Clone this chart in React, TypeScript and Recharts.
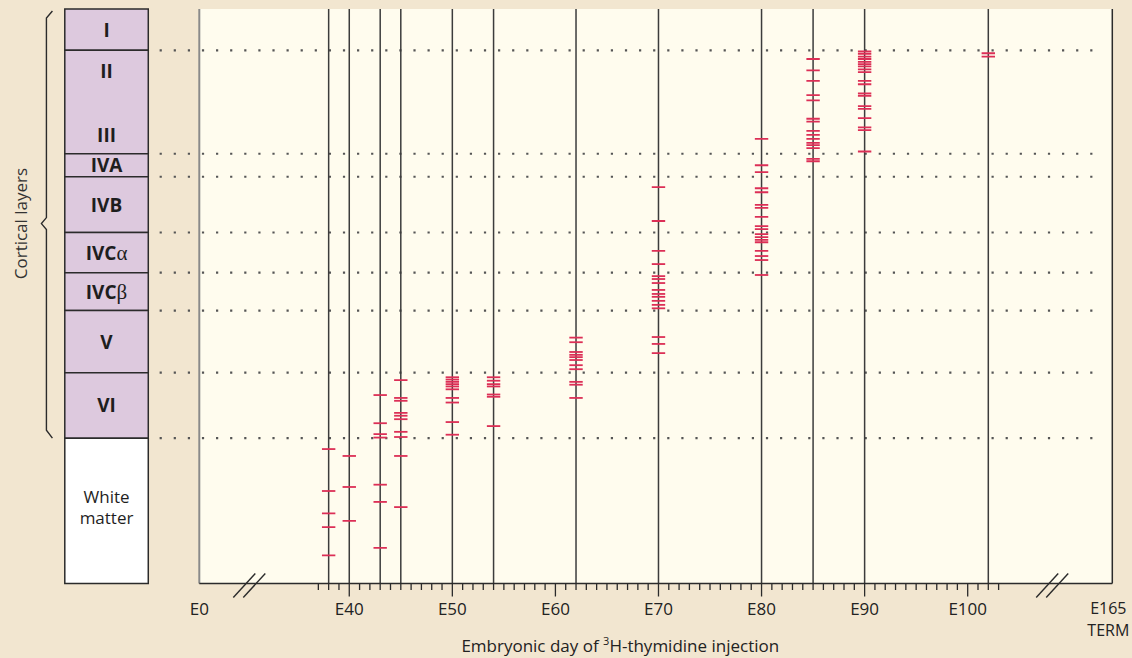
import {
  ComposedChart,
  XAxis,
  YAxis,
  CartesianGrid,
  ReferenceArea,
  ReferenceLine,
  ReferenceDot,
  Scatter,
} from "recharts";

const BEIGE = "#f2e6d0";
const CREAM = "#fffcee";
const LILAC = "#ddc9de";
const RED = "#dc2f56";
const INK = "#2b2b2b";
const FONT = "'Open Sans', 'Noto Sans', sans-serif";

// embryonic days on which 3H-thymidine was injected
const injectionDays = [38, 40, 43, 45, 50, 54, 62, 70, 80, 85, 90, 102];

// depth of each heavily labeled neuron, % of the column (0 = pial surface)
const labeledDepths = [
  [76.6, 83.9, 87.8, 90.2, 95.1],
  [77.8, 83.2, 89.1],
  [67.2, 72.1, 74.0, 74.6, 82.8, 85.8, 93.8],
  [64.6, 67.7, 68.2, 70.3, 70.8, 71.4, 73.6, 74.5, 77.8, 86.7],
  [64.1, 64.5, 64.9, 65.3, 65.7, 66.2, 67.7, 68.5, 71.9, 74.1],
  [64.1, 64.7, 65.3, 65.7, 67.1, 67.5, 72.6],
  [57.2, 58.0, 59.7, 60.2, 60.6, 61.1, 62.0, 62.7, 64.9, 65.4, 67.7],
  [31.0, 36.9, 42.1, 44.4, 46.5, 47.0, 47.7, 48.9, 49.6, 50.1, 50.8, 51.5, 52.1, 57.1, 58.3, 59.9],
  [22.6, 27.2, 28.4, 31.2, 31.9, 34.1, 34.6, 36.2, 37.8, 38.3, 39.2, 39.7, 40.2, 40.6, 42.1, 43.0, 43.7, 46.3],
  [8.7, 10.7, 12.5, 15.0, 15.9, 19.1, 19.6, 21.2, 21.9, 22.6, 23.3, 23.7, 24.2, 26.1, 26.5],
  [7.4, 7.8, 8.3, 8.7, 9.2, 9.6, 10.0, 10.5, 11.0, 12.5, 13.1, 14.7, 15.1, 16.9, 17.4, 19.0, 20.6, 21.1, 24.8],
  [7.7, 8.3],
];

// cortical layers, top to bottom, and their boundaries (same depth units)
const layerNames = ["I", "II|III", "IVA", "IVB", "IVCα", "IVCβ", "V", "VI", "White matter"];
const layerBounds = [0, 7.2, 25.2, 29.2, 38.9, 45.9, 52.5, 63.3, 74.7, 100];

const majorDays = [40, 50, 60, 70, 80, 90, 100];
const minorDayRange = [37, 103];
const endLabels = ["E0", "E165", "TERM"];

// broken axis: visible window in day units, E0 sits at the left edge, E165 at the right
const X_DOMAIN = [25.45, 114.03];
// placement of the decorations, in the same day units
const COLUMN_X = [12.4, 20.5];
const BRACE_X = [10.0, 11.2];
const DOTS_X = [21.6, 112.8];
const BREAKS = [30.3, 108.2];

const marks = injectionDays.flatMap((day, i) =>
  labeledDepths[i].map((depth) => ({ day, depth }))
);

const ticks = [
  X_DOMAIN[0],
  ...Array.from({ length: minorDayRange[1] - minorDayRange[0] + 1 }, (_, i) => minorDayRange[0] + i),
  X_DOMAIN[1],
];

const textStyle = { fontFamily: FONT, fill: "#222" };

function DayTick({ x, y, payload }: any) {
  const v = payload.value;
  if (v === X_DOMAIN[0]) {
    return (
      <text x={x} y={y + 31} textAnchor="middle" fontSize={17} style={textStyle}>
        {endLabels[0]}
      </text>
    );
  }
  if (v === X_DOMAIN[1]) {
    return (
      <g>
        <text x={x - 4} y={y + 30} textAnchor="middle" fontSize={16} style={textStyle}>
          {endLabels[1]}
        </text>
        <text x={x - 4} y={y + 52} textAnchor="middle" fontSize={16} style={textStyle}>
          {endLabels[2]}
        </text>
      </g>
    );
  }
  const major = majorDays.includes(v);
  return (
    <g>
      <line x1={x} x2={x} y1={y} y2={y + (major ? 13 : 6.5)} stroke={INK} strokeWidth={1.3} />
      {major && (
        <text x={x} y={y + 31} textAnchor="middle" fontSize={17} style={textStyle}>
          E{v}
        </text>
      )}
    </g>
  );
}

function AxisTitle(props: any) {
  const vb = props.viewBox || { x: 199.3, y: 583.5 };
  return (
    <text x={vb.x + 421} y={vb.y + 68.5} textAnchor="middle" fontSize={17} style={textStyle}>
      Embryonic day of <tspan dy={-7} fontSize={11}>3</tspan>
      <tspan dy={7}>H-thymidine injection</tspan>
    </text>
  );
}

function Dash({ cx, cy }: any) {
  return <line x1={cx - 6.7} x2={cx + 6.7} y1={cy} y2={cy} stroke={RED} strokeWidth={1.8} />;
}

function AxisBreak({ cx, cy }: any) {
  return (
    <g stroke={INK} strokeWidth={1.4}>
      <line x1={cx - 16} y1={cy + 14} x2={cx + 6} y2={cy - 10} />
      <line x1={cx - 6} y1={cy + 14} x2={cx + 16} y2={cy - 10} />
    </g>
  );
}

const layerLabel = (name: string) => (props: any) => {
  const { x, y, width, height } = props.viewBox;
  const cx = x + width / 2;
  const cy = y + height / 2;
  const bold = { fontFamily: FONT, fill: "#1e1e1e", fontWeight: 700, fontSize: 19 };
  if (name.includes("|")) {
    const [a, b] = name.split("|");
    return (
      <g>
        <text x={cx} y={y + 28} textAnchor="middle" style={bold}>{a}</text>
        <text x={cx} y={y + height - 12} textAnchor="middle" style={bold}>{b}</text>
      </g>
    );
  }
  if (name === "White matter") {
    const [a, b] = name.split(" ");
    return (
      <text textAnchor="middle" style={{ fontFamily: FONT, fill: "#1e1e1e", fontSize: 17 }}>
        <tspan x={cx} y={cy - 8}>{a}</tspan>
        <tspan x={cx} y={cy + 13}>{b}</tspan>
      </text>
    );
  }
  const greek = name.match(/[αβ]$/);
  return (
    <text x={cx} y={cy + 7} textAnchor="middle" style={bold}>
      {greek ? name.slice(0, -1) : name}
      {greek && (
        <tspan style={{ fontFamily: "'Liberation Serif', serif", fontWeight: 400, fontSize: 21 }}>
          {greek[0]}
        </tspan>
      )}
    </text>
  );
};

function Brace(props: any) {
  const { x, y, width, height } = props.viewBox;
  const x0 = x + width;
  const xl = x0 - 6;
  const xt = x0 - 11;
  const mid = y + height / 2;
  const d = `M${x0},${y + 2} L${xl},${y + 9} L${xl},${mid - 6} L${xt},${mid} L${xl},${mid + 6} L${xl},${y + height - 8} L${x0},${y + height}`;
  return (
    <g>
      <path d={d} fill="none" stroke={INK} strokeWidth={1.4} />
      <text
        x={x - 20}
        y={mid}
        transform={`rotate(-90 ${x - 20} ${mid})`}
        textAnchor="middle"
        dominantBaseline="central"
        fontSize={17}
        style={{ fontFamily: FONT, fill: "#333" }}
      >
        Cortical layers
      </text>
    </g>
  );
}

export default function App() {
  return (
    <div style={{ position: "fixed", left: 0, top: 0, width: 1132, height: 658, background: BEIGE }}>
      <ComposedChart
        width={1132}
        height={658}
        margin={{ top: 9, right: 19.7, bottom: 14.5, left: 199.3 }}
      >
        <CartesianGrid fill={CREAM} horizontal={false} vertical={false} stroke="none" />
        <XAxis
          dataKey="day"
          type="number"
          domain={X_DOMAIN}
          allowDataOverflow
          ticks={ticks}
          interval={0}
          tick={DayTick}
          tickLine={false}
          tickSize={0}
          tickMargin={0}
          height={60}
          axisLine={{ stroke: INK, strokeWidth: 1.5 }}
          label={{ content: AxisTitle }}
        />
        <YAxis dataKey="depth" type="number" domain={[0, 100]} reversed hide allowDataOverflow />

        {layerNames.map((name, i) => (
          <ReferenceArea
            key={name}
            x1={COLUMN_X[0]}
            x2={COLUMN_X[1]}
            y1={layerBounds[i]}
            y2={layerBounds[i + 1]}
            fill={name === "White matter" ? "#ffffff" : LILAC}
            fillOpacity={1}
            stroke={INK}
            strokeWidth={1.5}
            ifOverflow="visible"
            label={layerLabel(name)}
          />
        ))}
        <ReferenceArea
          x1={BRACE_X[0]}
          x2={BRACE_X[1]}
          y1={layerBounds[0]}
          y2={layerBounds[layerBounds.length - 2]}
          fill="none"
          stroke="none"
          ifOverflow="visible"
          label={Brace}
        />

        {layerBounds.slice(1, -1).map((d) => (
          <ReferenceLine
            key={d}
            segment={[
              { x: DOTS_X[0], y: d },
              { x: DOTS_X[1], y: d },
            ]}
            stroke="#555"
            strokeWidth={2.2}
            strokeDasharray="2.2 11.9"
            ifOverflow="visible"
          />
        ))}

        <ReferenceLine x={X_DOMAIN[0]} stroke="#8a8a8a" strokeWidth={2} ifOverflow="visible" />
        <ReferenceLine x={X_DOMAIN[1]} stroke={INK} strokeWidth={1.5} ifOverflow="visible" />
        {injectionDays.map((day) => (
          <ReferenceLine key={day} x={day} stroke="#3c3c3c" strokeWidth={1.5} />
        ))}

        {BREAKS.map((b) => (
          <ReferenceDot key={b} x={b} y={100} r={1} shape={AxisBreak} ifOverflow="visible" />
        ))}

        <Scatter data={marks} dataKey="depth" shape={Dash} isAnimationActive={false} />
      </ComposedChart>
    </div>
  );
}
